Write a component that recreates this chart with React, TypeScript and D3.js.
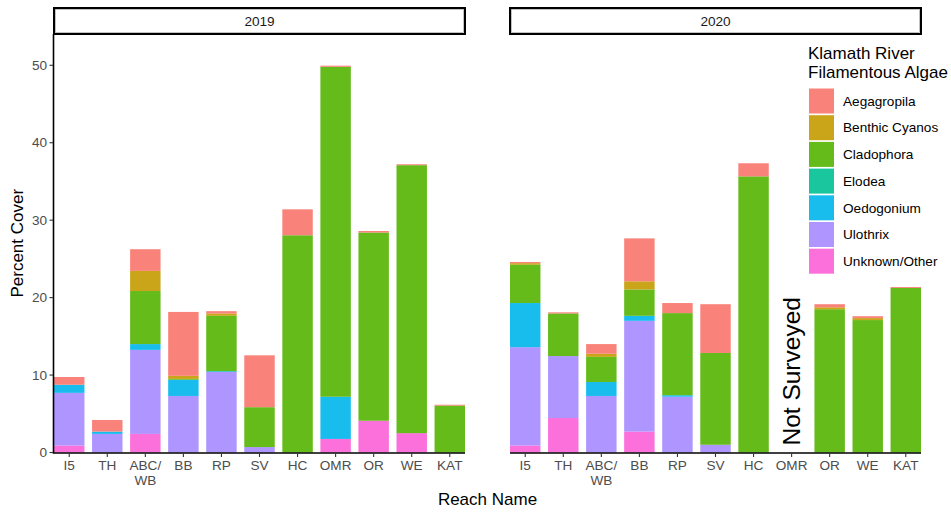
import React from "react";
import * as d3 from "d3";

// Reach names along the river (downstream order)
const reaches = ["I5", "TH", "ABC/\nWB", "BB", "RP", "SV", "HC", "OMR", "OR", "WE", "KAT"];
const years = ["2019", "2020"];

// Algal groups, legend order (top of stack first)
const taxa = ["Aegagropila", "Benthic Cyanos", "Cladophora", "Elodea", "Oedogonium", "Ulothrix", "Unknown/Other"];
const taxaColors = ["#F8766D", "#C49A00", "#53B400", "#00C094", "#00B6EB", "#A58AFF", "#FB61D7"];

// Percent cover, 2019
const aegagropila2019 = [1.0, 1.5, 2.8, 8.25, 0.3, 6.7, 3.35, 0.15, 0.2, 0.12, 0.12];
const benthic2019 = [0, 0, 2.6, 0.4, 0.3, 0, 0, 0, 0, 0, 0];
const cladophora2019 = [0, 0, 6.85, 0.1, 7.15, 5.15, 28.05, 42.6, 24.3, 34.6, 6.05];
const elodea2019 = [0, 0, 0, 0, 0, 0, 0, 0, 0, 0, 0];
const oedogonium2019 = [1.05, 0.3, 0.75, 2.1, 0.1, 0, 0, 5.45, 0, 0, 0];
const ulothrix2019 = [6.8, 2.4, 10.85, 7.3, 10.4, 0.7, 0, 0, 0, 0, 0];
const unknown2019 = [0.9, 0, 2.4, 0, 0, 0, 0, 1.75, 4.1, 2.5, 0];

// Percent cover, 2020 (OMR not surveyed)
const aegagropila2020 = [0.15, 0.15, 1.25, 5.55, 1.3, 6.3, 1.7, null, 0.4, 0.25, 0.12];
const benthic2020 = [0.2, 0, 0.4, 1.05, 0, 0, 0, null, 0.25, 0.25, 0];
const cladophora2020 = [4.95, 5.5, 3.25, 3.4, 10.6, 11.85, 35.65, null, 18.5, 17.1, 21.25];
const elodea2020 = [0, 0, 0, 0, 0, 0, 0, null, 0, 0, 0];
const oedogonium2020 = [5.7, 0, 1.8, 0.65, 0.2, 0, 0, null, 0, 0, 0];
const ulothrix2020 = [12.7, 8.0, 7.3, 14.3, 7.2, 1.0, 0, null, 0, 0, 0];
const unknown2020 = [0.9, 4.45, 0, 2.7, 0, 0, 0, null, 0, 0, 0];

const yTicks = [0, 10, 20, 30, 40, 50];

const seriesByYear: Record<string, (number | null)[][]> = {
  "2019": [aegagropila2019, benthic2019, cladophora2019, elodea2019, oedogonium2019, ulothrix2019, unknown2019],
  "2020": [aegagropila2020, benthic2020, cladophora2020, elodea2020, oedogonium2020, ulothrix2020, unknown2020],
};

const FONT = "'Liberation Sans', Arial, Helvetica, sans-serif";
const W = 951;
const H = 512;
const panelTop = 34;
const panelBottom = 452.5;
const panels = [
  { x0: 54, x1: 465 },
  { x0: 510, x1: 921 },
];

function rowsFor(year: string) {
  const cols = seriesByYear[year];
  return reaches.map((r, i) => {
    const row: any = { reach: r, surveyed: cols[0][i] !== null };
    taxa.forEach((t, k) => (row[t] = cols[k][i] ?? 0));
    return row;
  });
}

// stack from the bottom: Unknown/Other first, Aegagropila last
const stackKeys = [...taxa].reverse();
const stacker = d3.stack<any>().keys(stackKeys);

const y = d3.scaleLinear().domain([0, 54.04]).range([panelBottom, panelTop]);

export default function App() {
  return (
    <svg width={W} height={H} style={{ position: "absolute", left: 0, top: 0, fontFamily: FONT }}>
      <rect width={W} height={H} fill="#fff" />
      {years.map((year, pi) => {
        const p = panels[pi];
        const x = d3.scaleBand<string>().domain(reaches).range([p.x0, p.x1]).paddingInner(0.2).paddingOuter(0);
        const rows = rowsFor(year);
        const stacked = stacker(rows);
        return (
          <g key={year}>
            {/* facet strip */}
            <rect x={p.x0} y={8} width={p.x1 - p.x0} height={26} fill="#fff" stroke="#000" strokeWidth={2} />
            <rect x={p.x0 + 1.5} y={9.5} width={p.x1 - p.x0 - 3} height={23} fill="none" stroke="#9a9a9a" strokeWidth={0.6} />
            <text x={(p.x0 + p.x1) / 2} y={25.5} textAnchor="middle" fontSize={13.6} fill="#1A1A1A">
              {year}
            </text>
            {/* stacked bars */}
            {stacked.map((layer) => {
              const ci = taxa.indexOf(layer.key);
              return (
                <g key={layer.key} fill={taxaColors[ci]} fillOpacity={0.9}>
                  {layer.map((d, i) =>
                    d[1] - d[0] > 0 ? (
                      <rect key={i} x={x(reaches[i])} width={x.bandwidth()} y={y(d[1])} height={y(d[0]) - y(d[1])} />
                    ) : null
                  )}
                </g>
              );
            })}
            {rows.map((r, i) =>
              r.surveyed ? null : (
                <text
                  key={"ns" + i}
                  transform={`translate(${x(reaches[i])! + x.bandwidth() / 2},${y(0.9)}) rotate(-90)`}
                  fontSize={24.5}
                  fill="#000"
                  dominantBaseline="central"
                >
                  Not Surveyed
                </text>
              )
            )}
            {/* x axis */}
            <line x1={p.x0} x2={p.x1} y1={panelBottom + 0.5} y2={panelBottom + 0.5} stroke="#000" strokeWidth={1.6} />
            {reaches.map((r) => {
              const cx = x(r)! + x.bandwidth() / 2;
              const lines = r.split("\n");
              return (
                <g key={r}>
                  <line x1={cx} x2={cx} y1={panelBottom + 1} y2={panelBottom + 4.5} stroke="#333" strokeWidth={1.1} />
                  <text x={cx} textAnchor="middle" fontSize={13.6} fill="#4D4D4D">
                    {lines.map((l, li) => (
                      <tspan key={li} x={cx} y={470 + li * 14.5}>
                        {l}
                      </tspan>
                    ))}
                  </text>
                </g>
              );
            })}
            {/* y axis on the first panel only */}
            {pi === 0 && (
              <g>
                <line x1={p.x0 - 0.5} x2={p.x0 - 0.5} y1={panelTop} y2={panelBottom + 1.3} stroke="#000" strokeWidth={1.6} />
                {yTicks.map((t) => (
                  <g key={t}>
                    <line x1={p.x0 - 4.5} x2={p.x0 - 1} y1={y(t)} y2={y(t)} stroke="#333" strokeWidth={1.1} />
                    <text x={p.x0 - 7} y={y(t)} dy="0.35em" textAnchor="end" fontSize={13.6} fill="#4D4D4D">
                      {t}
                    </text>
                  </g>
                ))}
              </g>
            )}
          </g>
        );
      })}
      {/* axis titles */}
      <text x={(panels[0].x0 + panels[1].x1) / 2} y={505} textAnchor="middle" fontSize={17} fill="#000">
        Reach Name
      </text>
      <text
        transform={`translate(22.5,${(panelTop + panelBottom) / 2}) rotate(-90)`}
        textAnchor="middle"
        fontSize={17}
        fill="#000"
      >
        Percent Cover
      </text>
      {/* legend */}
      <g>
        <text x={808} y={59.3} fontSize={17} fill="#000">
          Klamath River
        </text>
        <text x={808} y={77.7} fontSize={17} fill="#000">
          Filamentous Algae
        </text>
        {taxa.map((t, i) => {
          const top = 88.5 + i * 26.7;
          return (
            <g key={t}>
              <rect x={809} y={top} width={25} height={25} fill={taxaColors[i]} fillOpacity={0.9} />
              <text x={843} y={top + 12.5} dy="0.35em" fontSize={13.6} fill="#000">
                {t}
              </text>
            </g>
          );
        })}
      </g>
    </svg>
  );
}
